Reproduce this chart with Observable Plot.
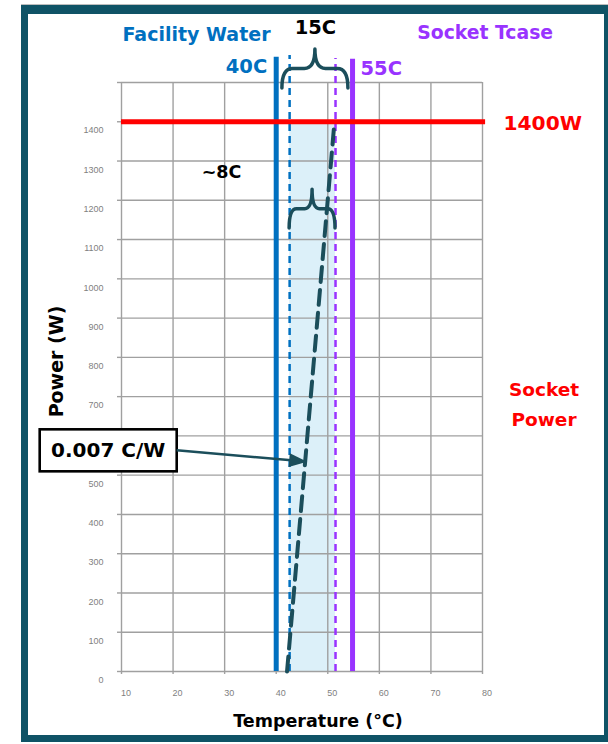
<!DOCTYPE html>
<html><head><meta charset="utf-8">
<script src="https://cdn.jsdelivr.net/npm/d3@7"></script>
<script src="https://cdn.jsdelivr.net/npm/@observablehq/plot@0.6"></script>
<style>
html,body{margin:0;padding:0;background:#fff;}
#wrap{position:relative;width:608px;height:744px;overflow:hidden;background:#fff;}
#frame{position:absolute;left:21px;top:5px;width:590px;height:737px;box-sizing:border-box;border:7px solid #0f5366;border-top-width:9px;box-shadow:0 -1px 0 #bdbdbd;}
#chart{position:absolute;left:0;top:0;}
#chart g[aria-label="x-axis tick label"] text,#chart g[aria-label="y-axis tick label"] text{font-family:"Liberation Sans",Arial,sans-serif;font-weight:normal;}
</style></head><body>
<div id="wrap"><div id="frame"></div><div id="chart"></div></div>
<script>
// ---- data ----
const tempTicks = [10, 20, 30, 40, 50, 60, 70, 80];
const powerGridTicks = [0, 100, 200, 300, 400, 500, 600, 700, 800, 900, 1000, 1100, 1200, 1300, 1400, 1500];
// "600" is hidden behind the callout box in the reference
const powerTickLabels = ["0", "100", "200", "300", "400", "500", "", "700", "800", "900", "1000", "1100", "1200", "1300", "1400"];
const facilityWaterTemp = [40];
const socketTcaseTemp = [54.8];
const waterDashedTemp = [42.6];
const tcaseDashedTemp = [51.5];
const powerLimit = [1400];
const slopeTemp = [42.1, 51.3];
const slopePower = [0, 1400];
const slopeData = slopeTemp.map((t, i) => ({temp: t, power: slopePower[i]}));
const braceTop = {x1: 41.2, x2: 54.0, end: 1485, peak: 1584};
const braceInner = {x1: 42.6, x2: 51.5, end: 1128, peak: 1227};
const calloutFrom = {temp: 20.8, power: 562};
const calloutTo = {temp: 46.1, power: 533};
const calloutText = "0.007 C/W";

const FONT = "DejaVu Sans, Verdana, sans-serif";
const TEAL = "#1b4e5b";
const BLUE = "#0070c0";
const PURPLE = "#9933ff";
const GRID = "#a0a0a0";
const SVGNS = "http://www.w3.org/2000/svg";

function braceMark(b) {
  return (index, scales) => {
    const X = scales.x, Y = scales.y;
    const x1 = X(b.x1), x2 = X(b.x2), ye = Y(b.end), yp = Y(b.peak);
    const xm = (x1 + x2) / 2, ys = (ye + yp) / 2, q = (x2 - x1) * 0.16;
    const d = `M${x1},${ye}Q${x1},${ys} ${x1 + q},${ys}L${xm - q},${ys}Q${xm},${ys} ${xm},${yp}` +
              `Q${xm},${ys} ${xm + q},${ys}L${x2 - q},${ys}Q${x2},${ys} ${x2},${ye}`;
    const p = document.createElementNS(SVGNS, "path");
    p.setAttribute("d", d);
    p.setAttribute("fill", "none");
    p.setAttribute("stroke", TEAL);
    p.setAttribute("stroke-width", 3.5);
    p.setAttribute("stroke-linecap", "round");
    p.setAttribute("stroke-linejoin", "round");
    return p;
  };
}

function calloutMark(index, scales) {
  const X = scales.x, Y = scales.y;
  const x0 = X(calloutFrom.temp), y0 = Y(calloutFrom.power);
  const x1 = X(calloutTo.temp), y1 = Y(calloutTo.power);
  const g = document.createElementNS(SVGNS, "g");
  const bw = 137, bh = 42;
  const rect = document.createElementNS(SVGNS, "rect");
  rect.setAttribute("x", x0 - bw); rect.setAttribute("y", y0 - bh / 2);
  rect.setAttribute("width", bw); rect.setAttribute("height", bh);
  rect.setAttribute("fill", "#fff"); rect.setAttribute("stroke", "#000"); rect.setAttribute("stroke-width", 2.6);
  g.appendChild(rect);
  const t = document.createElementNS(SVGNS, "text");
  t.setAttribute("x", x0 - bw / 2); t.setAttribute("y", y0 + 6.5);
  t.setAttribute("text-anchor", "middle");
  t.setAttribute("font-family", FONT); t.setAttribute("font-weight", "bold"); t.setAttribute("font-size", 20);
  t.setAttribute("fill", "#000");
  t.textContent = calloutText;
  g.appendChild(t);
  const dx = x1 - x0, dy = y1 - y0, L = Math.hypot(dx, dy), ux = dx / L, uy = dy / L;
  const hl = 18, hw = 7;
  const bx = x1 - ux * hl, by = y1 - uy * hl;
  const line = document.createElementNS(SVGNS, "line");
  line.setAttribute("x1", x0); line.setAttribute("y1", y0);
  line.setAttribute("x2", bx + ux * 2); line.setAttribute("y2", by + uy * 2);
  line.setAttribute("stroke", TEAL); line.setAttribute("stroke-width", 2.6);
  g.appendChild(line);
  const head = document.createElementNS(SVGNS, "path");
  head.setAttribute("d", `M${x1},${y1}L${bx - uy * hw},${by + ux * hw}L${bx + uy * hw},${by - ux * hw}Z`);
  head.setAttribute("fill", TEAL);
  g.appendChild(head);
  return g;
}

const textBase = {fontFamily: FONT, fontWeight: "bold", lineAnchor: "bottom"};

const chart = Plot.plot({
  width: 608, height: 744,
  marginLeft: 121, marginRight: 126, marginTop: 82, marginBottom: 73,
  x: {domain: [10, 80]},
  y: {domain: [0, 1500]},
  style: {background: "transparent", fontFamily: FONT, overflow: "visible"},
  marks: [
    Plot.rect([0], {x1: () => waterDashedTemp[0], x2: () => tcaseDashedTemp[0], y1: () => 0, y2: () => powerLimit[0], fill: "#dcf0f9"}),
    Plot.gridX({ticks: tempTicks, stroke: GRID, strokeOpacity: 1, strokeWidth: 1.4}),
    Plot.gridY({ticks: powerGridTicks, stroke: GRID, strokeOpacity: 1, strokeWidth: 1.4}),
    // tick marks (aligned with the grid)
    Plot.axisX({ticks: tempTicks, tickSize: 3, stroke: GRID, strokeWidth: 1.4, label: null, tickFormat: () => ""}),
    Plot.axisY({ticks: powerGridTicks, tickSize: 4, stroke: GRID, strokeWidth: 1.4, label: null, tickFormat: () => ""}),
    // tick labels (offset like the reference)
    Plot.axisX({ticks: tempTicks, tickSize: 0, tickPadding: 18, dx: 4.5, fontSize: 9, fill: "#7f7f7f", label: null, tickFormat: d => String(d)}),
    Plot.axisY({ticks: powerGridTicks, tickSize: 0, tickPadding: 18, dy: 8.8, fontSize: 9, fill: "#7f7f7f", label: null,
      tickFormat: d => powerTickLabels[powerGridTicks.indexOf(d)] ?? ""}),
    Plot.ruleX(facilityWaterTemp, {x: d => d, y1: 0, y2: 1564, stroke: BLUE, strokeWidth: 5}),
    Plot.ruleX(waterDashedTemp, {x: d => d, y1: 0, y2: 1569, stroke: BLUE, strokeWidth: 2.5, strokeDasharray: "7,5"}),
    Plot.ruleX(tcaseDashedTemp, {x: d => d, y1: 0, y2: 1561, stroke: PURPLE, strokeWidth: 2.5, strokeDasharray: "7,5"}),
    Plot.ruleX(socketTcaseTemp, {x: d => d, y1: 0, y2: 1559, stroke: PURPLE, strokeWidth: 5}),
    Plot.ruleY(powerLimit, {y: d => d, x1: 10, x2: 80.6, stroke: "#ff0000", strokeWidth: 5}),
    Plot.line(slopeData, {x: "temp", y: "power", stroke: TEAL, strokeWidth: 4, strokeDasharray: "15,8"}),
    braceMark(braceTop),
    braceMark(braceInner),
    calloutMark,
    // labels
    Plot.text(facilityWaterTemp, {...textBase, x: d => d, text: () => "Facility Water", frameAnchor: "top", textAnchor: "end", dx: -5.7, dy: -42, fontSize: 19, fill: BLUE}),
    Plot.text(facilityWaterTemp, {...textBase, x: d => d, text: () => "40C", frameAnchor: "top", textAnchor: "end", dx: -9, dy: -9.3, fontSize: 19.5, fill: BLUE}),
    Plot.text(socketTcaseTemp, {...textBase, x: d => d, text: () => "55C", frameAnchor: "top", textAnchor: "start", dx: 8, dy: -8, fontSize: 19.5, fill: PURPLE}),
    Plot.text(socketTcaseTemp, {...textBase, x: d => d, text: () => "Socket Tcase", frameAnchor: "top", textAnchor: "start", dx: 64.7, dy: -43.5, fontSize: 18.8, fill: PURPLE}),
    Plot.text([braceTop], {...textBase, x: b => (b.x1 + b.x2) / 2, text: () => "15C", frameAnchor: "top", textAnchor: "middle", dy: -49, fontSize: 19.5, fill: "#000"}),
    Plot.text(powerLimit, {...textBase, y: d => d, text: () => "1400W", frameAnchor: "right", textAnchor: "start", dx: 21, dy: 8.7, fontSize: 20.2, fill: "#ff0000"}),
    Plot.text(["Socket\nPower"], {...textBase, text: d => d, frameAnchor: "right", textAnchor: "middle", dx: 61.5, dy: 48.5, lineHeight: 1.62, fontSize: 18.5, fill: "#ff0000"}),
    Plot.text(["~8C"], {...textBase, text: d => d, x: 29.4, y: 1256, textAnchor: "middle", fontSize: 17.5, fill: "#000"}),
    Plot.text(["Power (W)"], {...textBase, text: d => d, frameAnchor: "left", rotate: -90, textAnchor: "middle", dx: -58.5, dy: -15.5, fontSize: 19, fill: "#000"}),
    Plot.text(["Temperature (°C)"], {...textBase, text: d => d, frameAnchor: "bottom", textAnchor: "middle", dx: 16, dy: 55, fontSize: 17.5, fill: "#000"})
  ]
});
document.getElementById("chart").appendChild(chart);
</script>
</body></html>
